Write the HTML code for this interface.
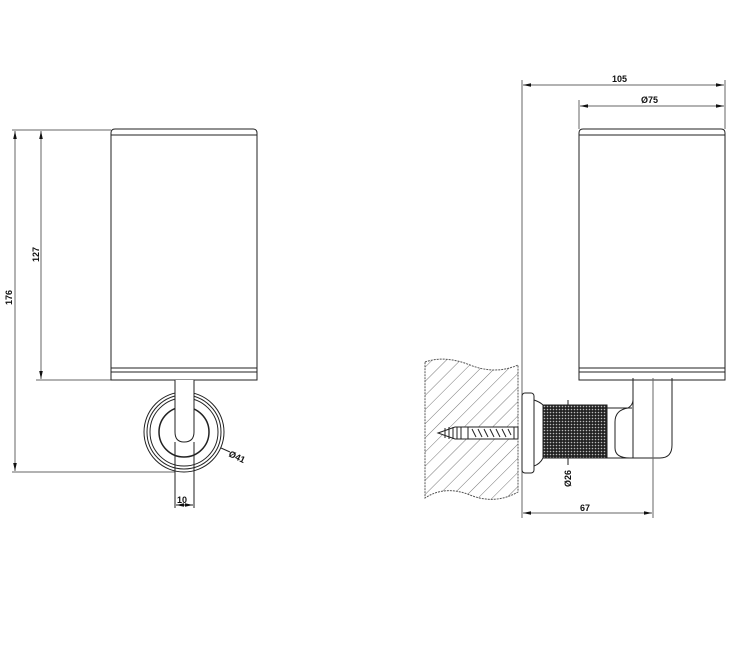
<!DOCTYPE html>
<html><head><style>body{margin:0;background:#fff}svg{display:block}text{font-family:"Liberation Sans",sans-serif;font-size:9px;font-weight:bold;fill:#111}</style></head><body>
<svg width="750" height="647" viewBox="0 0 750 647" xmlns="http://www.w3.org/2000/svg">
<defs>
<marker id="a" markerWidth="8" markerHeight="6" refX="8" refY="3" orient="auto-start-reverse"><path d="M0,1.2 L8,3 L0,4.8z" fill="#111"/></marker>
<pattern id="h" width="10" height="10" patternUnits="userSpaceOnUse" patternTransform="rotate(45)"><line x1="0" y1="0" x2="0" y2="10" stroke="#555" stroke-width="0.8"/></pattern>
<pattern id="k" width="3" height="3" patternUnits="userSpaceOnUse"><rect width="3" height="3" fill="#222"/><circle cx="1.5" cy="1.5" r="0.8" fill="#bbb"/></pattern>
</defs>
<g fill="none" stroke="#222" stroke-width="1">
<!-- LEFT VIEW -->
<line x1="12" y1="130" x2="111" y2="130" stroke="#666"/>
<line x1="36" y1="380" x2="111" y2="380" stroke="#666"/>
<line x1="12" y1="472" x2="175" y2="472" stroke="#666"/>
<line x1="15" y1="131" x2="15" y2="471" marker-start="url(#a)" marker-end="url(#a)" stroke="#666"/>
<line x1="41" y1="131" x2="41" y2="379" marker-start="url(#a)" marker-end="url(#a)" stroke="#666"/>
<path d="M111,380 V133 Q111,129 115,129 H253 Q257,129 257,133 V380 Z"/>
<line x1="111" y1="135" x2="257" y2="135"/>
<line x1="111" y1="368" x2="257" y2="368"/>
<line x1="111" y1="372" x2="257" y2="372"/>
<circle cx="184" cy="432" r="40"/>
<circle cx="184" cy="432" r="37"/>
<circle cx="184" cy="432" r="34"/>
<circle cx="184" cy="432" r="25" stroke-width="1.5" fill="#fff"/>
<path d="M175,380 V432 Q175,442 184,442 Q194,442 194,432 V380" fill="#fff"/>
<line x1="175" y1="442" x2="175" y2="508"/>
<line x1="194" y1="442" x2="194" y2="508"/>
<line x1="176" y1="505" x2="193" y2="505" marker-start="url(#a)" marker-end="url(#a)"/>
<line x1="221" y1="448" x2="230" y2="452"/>
<!-- RIGHT VIEW -->
<line x1="522" y1="80" x2="522" y2="518" stroke="#666"/>
<line x1="725" y1="80" x2="725" y2="129" stroke="#666"/>
<line x1="579" y1="100" x2="579" y2="129" stroke="#666"/>
<line x1="523" y1="85" x2="724" y2="85" marker-start="url(#a)" marker-end="url(#a)" stroke="#666"/>
<line x1="580" y1="106" x2="724" y2="106" marker-start="url(#a)" marker-end="url(#a)" stroke="#666"/>
<path d="M579,380 V133 Q579,129 583,129 H721 Q725,129 725,133 V380 Z"/>
<line x1="579" y1="135" x2="725" y2="135"/>
<line x1="579" y1="368" x2="725" y2="368"/>
<line x1="579" y1="372" x2="725" y2="372"/>
<path d="M425,362 Q445,355 470,365 Q495,375 518,365 V492 Q495,505 470,495 Q445,485 425,498 Z" fill="url(#h)" stroke="#555" stroke-dasharray="2,1"/>
<path d="M438,433 L455,427 H518 V439 H455 Z" fill="#fff"/>
<path d="M445,428 v10 M449,427 v12 M453,427 v12 M457,427 v12 M461,427 v12" />
<rect x="468" y="427" width="46" height="12" fill="#fff"/>
<path d="M472,429 l4,8 M478,429 l4,8 M484,429 l4,8 M490,429 l4,8 M496,429 l4,8 M502,429 l4,8 M508,429 l3,6"/>
<rect x="522" y="393" width="12" height="80" rx="3" fill="#fff"/>
<path d="M534,400 Q540,402 543,405 M534,466 Q540,464 543,458"/>
<rect x="543" y="405" width="64" height="53" fill="url(#k)"/>
<line x1="607" y1="408" x2="632" y2="408"/>
<line x1="607" y1="458" x2="632" y2="458"/>
<path d="M633,378 V400 Q633,405 628,408 Q615,410 615,422 V448 Q615,458 630,458 H660 Q672,458 672,445 V378"/>
<line x1="633" y1="378" x2="633" y2="458"/>
<line x1="653" y1="378" x2="653" y2="518" stroke="#666"/>
<line x1="523" y1="513" x2="652" y2="513" marker-start="url(#a)" marker-end="url(#a)" stroke="#666"/>
<line x1="568" y1="400" x2="568" y2="405"/>
<line x1="568" y1="458" x2="568" y2="465"/>
</g>
<text x="0" y="0" transform="translate(12,305) rotate(-90)">176</text>
<text x="0" y="0" transform="translate(39,262) rotate(-90)">127</text>
<text x="177" y="503">10</text>
<text x="0" y="0" transform="translate(228,456) rotate(25)">Ø41</text>
<text x="612" y="82">105</text>
<text x="641" y="103">Ø75</text>
<text x="580" y="511">67</text>
<text x="0" y="0" transform="translate(571,487) rotate(-90)">Ø26</text>
</svg>
</body></html>
